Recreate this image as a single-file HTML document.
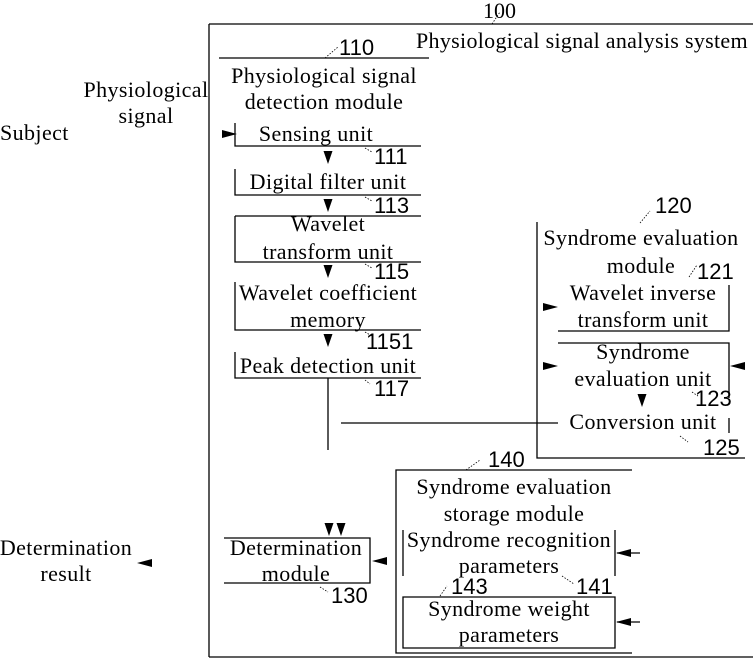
<!DOCTYPE html>
<html><head><style>
body{margin:0;background:#fff}
svg{display:block}
.t{font-family:"Liberation Serif",serif;font-size:22px;letter-spacing:0.4px;fill:#000}
.n{font-family:"Liberation Sans",sans-serif;font-size:22px;fill:#000}
</style></head><body>
<svg width="753" height="658" viewBox="0 0 753 658" xmlns="http://www.w3.org/2000/svg">
<defs>
<path id="ad" d="M-4.5,-7 L4.5,-7 L0,6 Z"/>
<path id="ar" d="M-7,-4 L8,0 L-7,4 Z"/>
<path id="al" d="M7,-4 L-8,0 L7,4 Z"/>
</defs>
<g stroke="#000" stroke-width="1.3" fill="none">
<path d="M209,24 H753 M209,24 V657 M209,657 H753"/>
<path d="M219,58 H429"/>
<path d="M235,123 V146 H421"/>
<path d="M235,169 V195 H421"/>
<path d="M235,216 H421 M235,216 V262 H421"/>
<path d="M235,282 V330 H421"/>
<path d="M235,352 V378 H421"/>
<path d="M328,378 V450"/>
<path d="M537,222 V458 H745"/>
<path d="M729,285 V331 H558"/>
<path d="M558,343 H729 V398 M729,418 V433"/>
<path d="M341,423 H558"/>
<path d="M632,470 H396 V653 H632"/>
<path d="M403,530 V576 M615,530 V576"/>
<path d="M403,597 H615 V648 H403 Z"/>
<path d="M224,538 H370 V583 H224"/>
<path d="M617,553 H640 M617,622 H640"/>
<path d="M325,58 L338,47 M492,24 L500,12 M365,148 L372,152 M365,197 L372,201 M365,264 L372,268 M365,332 L372,336 M365,380 L370,384 M640,223 L650,211 M689,277 L697,265 M692,392 L698,396 M680,436 L688,442 M466,470 L480,460 M320,587 L328,592 M440,596 L447,586 M562,576 L574,584" stroke-width="0.8" stroke-dasharray="1.5,1.5"/>
</g>
<g fill="#000">
<use href="#ar" x="229" y="134"/>
<use href="#ad" x="328" y="158"/>
<use href="#ad" x="328" y="206"/>
<use href="#ad" x="328" y="272"/>
<use href="#ad" x="328" y="341"/>
<use href="#ar" x="550" y="307"/>
<use href="#ar" x="550" y="366"/>
<use href="#al" x="738" y="366"/>
<use href="#ad" x="642" y="401"/>
<use href="#ad" x="329" y="530"/>
<use href="#ad" x="341" y="530"/>
<use href="#al" x="380" y="561"/>
<use href="#al" x="145" y="563"/>
<use href="#al" x="624" y="553"/>
<use href="#al" x="624" y="622"/>
</g>
<text class="t" x="483" y="18" style="letter-spacing:0">100</text>
<text class="t" x="416" y="48" textLength="332">Physiological signal analysis system</text>
<text class="n" x="339" y="55">110</text>
<text class="t" x="324" y="83" text-anchor="middle">Physiological signal</text>
<text class="t" x="324" y="109" text-anchor="middle">detection module</text>
<text class="t" x="316" y="141" text-anchor="middle">Sensing unit</text>
<text class="t" x="328" y="189" text-anchor="middle">Digital filter unit</text>
<text class="t" x="328" y="231" text-anchor="middle">Wavelet</text>
<text class="t" x="328" y="259" text-anchor="middle">transform unit</text>
<text class="t" x="328" y="300" text-anchor="middle">Wavelet coefficient</text>
<text class="t" x="328" y="327" text-anchor="middle">memory</text>
<text class="t" x="328" y="373" text-anchor="middle">Peak detection unit</text>
<text class="n" x="374" y="164">111</text>
<text class="n" x="374" y="213">113</text>
<text class="n" x="374" y="279">115</text>
<text class="n" x="366" y="349">1151</text>
<text class="n" x="374" y="396">117</text>
<text class="t" x="146" y="97" text-anchor="middle">Physiological</text>
<text class="t" x="146" y="123" text-anchor="middle">signal</text>
<text class="t" x="0" y="140">Subject</text>
<text class="n" x="655" y="213">120</text>
<text class="t" x="641" y="245" text-anchor="middle">Syndrome evaluation</text>
<text class="t" x="641" y="273" text-anchor="middle">module</text>
<text class="n" x="697" y="279">121</text>
<text class="t" x="643" y="300" text-anchor="middle">Wavelet inverse</text>
<text class="t" x="643" y="327" text-anchor="middle">transform unit</text>
<text class="t" x="643" y="359" text-anchor="middle">Syndrome</text>
<text class="t" x="643" y="386" text-anchor="middle">evaluation unit</text>
<text class="n" x="695" y="406">123</text>
<text class="t" x="643" y="429" text-anchor="middle">Conversion unit</text>
<text class="n" x="703" y="455">125</text>
<text class="n" x="488" y="467">140</text>
<text class="t" x="514" y="494" text-anchor="middle">Syndrome evaluation</text>
<text class="t" x="514" y="521" text-anchor="middle">storage module</text>
<text class="t" x="509" y="547" text-anchor="middle">Syndrome recognition</text>
<text class="t" x="509" y="573" text-anchor="middle">parameters</text>
<text class="n" x="451" y="594">143</text>
<text class="n" x="576" y="594">141</text>
<text class="t" x="509" y="616" text-anchor="middle">Syndrome weight</text>
<text class="t" x="509" y="642" text-anchor="middle">parameters</text>
<text class="t" x="296" y="555" text-anchor="middle">Determination</text>
<text class="t" x="296" y="581" text-anchor="middle">module</text>
<text class="n" x="331" y="603">130</text>
<text class="t" x="66" y="555" text-anchor="middle">Determination</text>
<text class="t" x="66" y="581" text-anchor="middle">result</text>
</svg>
</body></html>
